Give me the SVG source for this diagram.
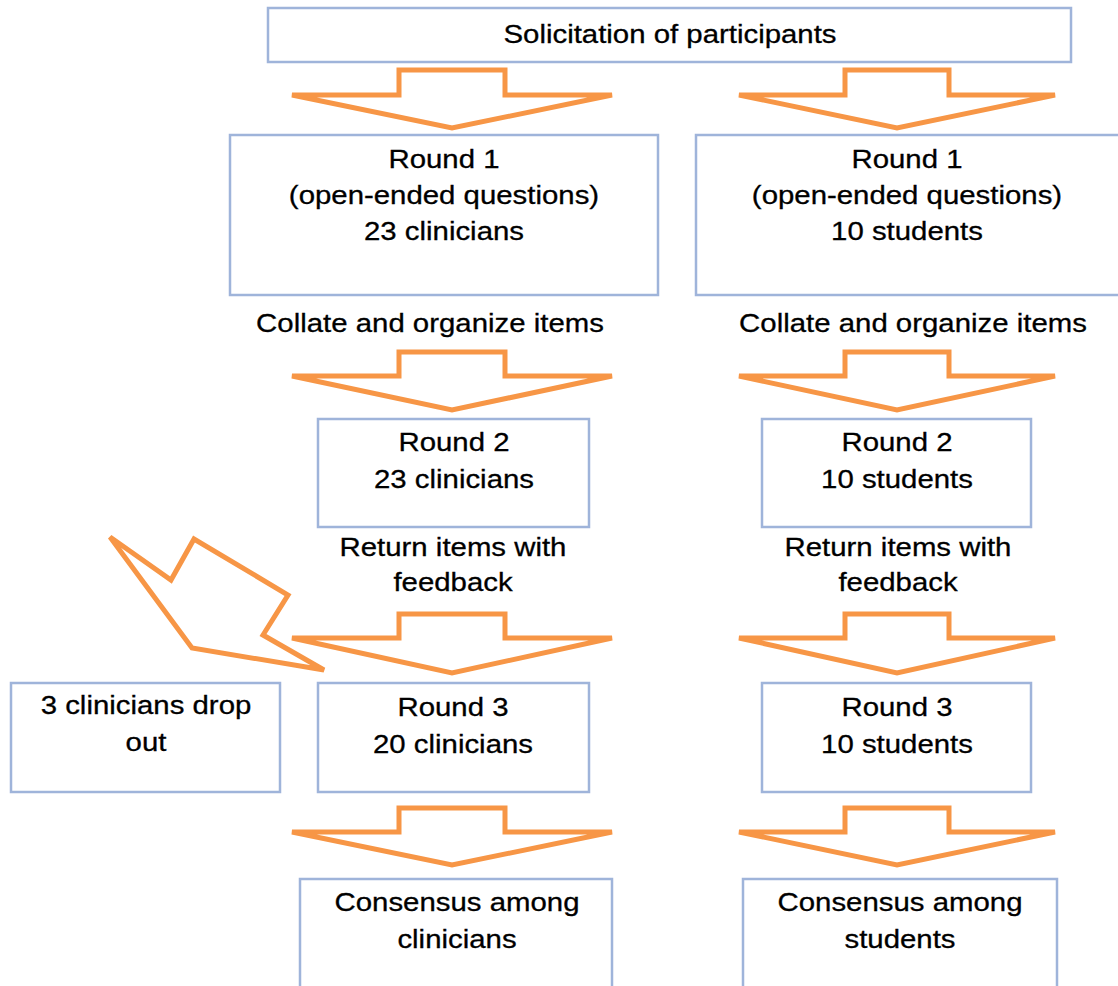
<svg xmlns="http://www.w3.org/2000/svg" width="1118" height="986" viewBox="0 0 1118 986">
<style>
.box{fill:#fff;stroke:#9fb4da;stroke-width:2.5}
.arr{fill:#fff;stroke:#f79646;stroke-width:5;stroke-linejoin:miter;stroke-miterlimit:3}
.t{font-family:"Liberation Sans",Arial,sans-serif;font-size:26px;fill:#000;text-anchor:middle;stroke:#000;stroke-width:0.3}
</style>
<rect width="1118" height="986" fill="#fff"/>
<g id="connectors">
<polygon class="arr" points="399,70 505,70 505,95 612,95 452,128 292,95 399,95"/>
<polygon class="arr" points="845,70 949,70 949,95 1055,95 897,128 739,95 845,95"/>
<polygon class="arr" points="399,352 505,352 505,376 612,376 452,410 292,376 399,376"/>
<polygon class="arr" points="845,352 949,352 949,376 1055,376 897,410 739,376 845,376"/>
<polygon class="arr" points="399,614 505,614 505,638 612,638 452,673 292,638 399,638"/>
<polygon class="arr" points="845,614 949,614 949,638 1055,638 897,673 739,638 845,638"/>
<polygon class="arr" points="399,808 505,808 505,832 612,832 452,865 292,832 399,832"/>
<polygon class="arr" points="845,808 949,808 949,832 1055,832 897,865 739,832 845,832"/>
<polygon class="arr" points="110,537 171,580 194,539 288,595 263,635 324,670 192,648"/>
</g>
<g id="solicitation">
<rect class="box" x="268" y="8" width="803" height="54"/>
<text class="t" transform="translate(670,43) scale(1.13,1)">Solicitation of participants</text>
</g>
<g id="round1-clinicians">
<rect class="box" x="230" y="135" width="428" height="160"/>
<text class="t" transform="translate(444,168) scale(1.13,1)">Round 1</text>
<text class="t" transform="translate(444,204) scale(1.13,1)">(open-ended questions)</text>
<text class="t" transform="translate(444,240) scale(1.13,1)">23 clinicians</text>
</g>
<g id="round1-students">
<rect class="box" x="696" y="135" width="430" height="160"/>
<text class="t" transform="translate(907,168) scale(1.13,1)">Round 1</text>
<text class="t" transform="translate(907,204) scale(1.13,1)">(open-ended questions)</text>
<text class="t" transform="translate(907,240) scale(1.13,1)">10 students</text>
</g>
<g id="collate-left">
<text class="t" transform="translate(430,332) scale(1.13,1)">Collate and organize items</text>
</g>
<g id="collate-right">
<text class="t" transform="translate(913,332) scale(1.13,1)">Collate and organize items</text>
</g>
<g id="round2-clinicians">
<rect class="box" x="318" y="419" width="271" height="108"/>
<text class="t" transform="translate(454,451) scale(1.13,1)">Round 2</text>
<text class="t" transform="translate(454,488) scale(1.13,1)">23 clinicians</text>
</g>
<g id="round2-students">
<rect class="box" x="762" y="419" width="269" height="108"/>
<text class="t" transform="translate(897,451) scale(1.13,1)">Round 2</text>
<text class="t" transform="translate(897,488) scale(1.13,1)">10 students</text>
</g>
<g id="return-left">
<text class="t" transform="translate(453,556) scale(1.13,1)">Return items with</text>
<text class="t" transform="translate(453,591) scale(1.13,1)">feedback</text>
</g>
<g id="return-right">
<text class="t" transform="translate(898,556) scale(1.13,1)">Return items with</text>
<text class="t" transform="translate(898,591) scale(1.13,1)">feedback</text>
</g>
<g id="dropout">
<rect class="box" x="11" y="683" width="269" height="109"/>
<text class="t" transform="translate(146,714) scale(1.13,1)">3 clinicians drop</text>
<text class="t" transform="translate(146,751) scale(1.13,1)">out</text>
</g>
<g id="round3-clinicians">
<rect class="box" x="318" y="683" width="271" height="109"/>
<text class="t" transform="translate(453,716) scale(1.13,1)">Round 3</text>
<text class="t" transform="translate(453,753) scale(1.13,1)">20 clinicians</text>
</g>
<g id="round3-students">
<rect class="box" x="762" y="683" width="269" height="109"/>
<text class="t" transform="translate(897,716) scale(1.13,1)">Round 3</text>
<text class="t" transform="translate(897,753) scale(1.13,1)">10 students</text>
</g>
<g id="consensus-clinicians">
<rect class="box" x="300" y="879" width="312" height="115"/>
<text class="t" transform="translate(457,911) scale(1.13,1)">Consensus among</text>
<text class="t" transform="translate(457,948) scale(1.13,1)">clinicians</text>
</g>
<g id="consensus-students">
<rect class="box" x="743" y="879" width="314" height="115"/>
<text class="t" transform="translate(900,911) scale(1.13,1)">Consensus among</text>
<text class="t" transform="translate(900,948) scale(1.13,1)">students</text>
</g>
</svg>
